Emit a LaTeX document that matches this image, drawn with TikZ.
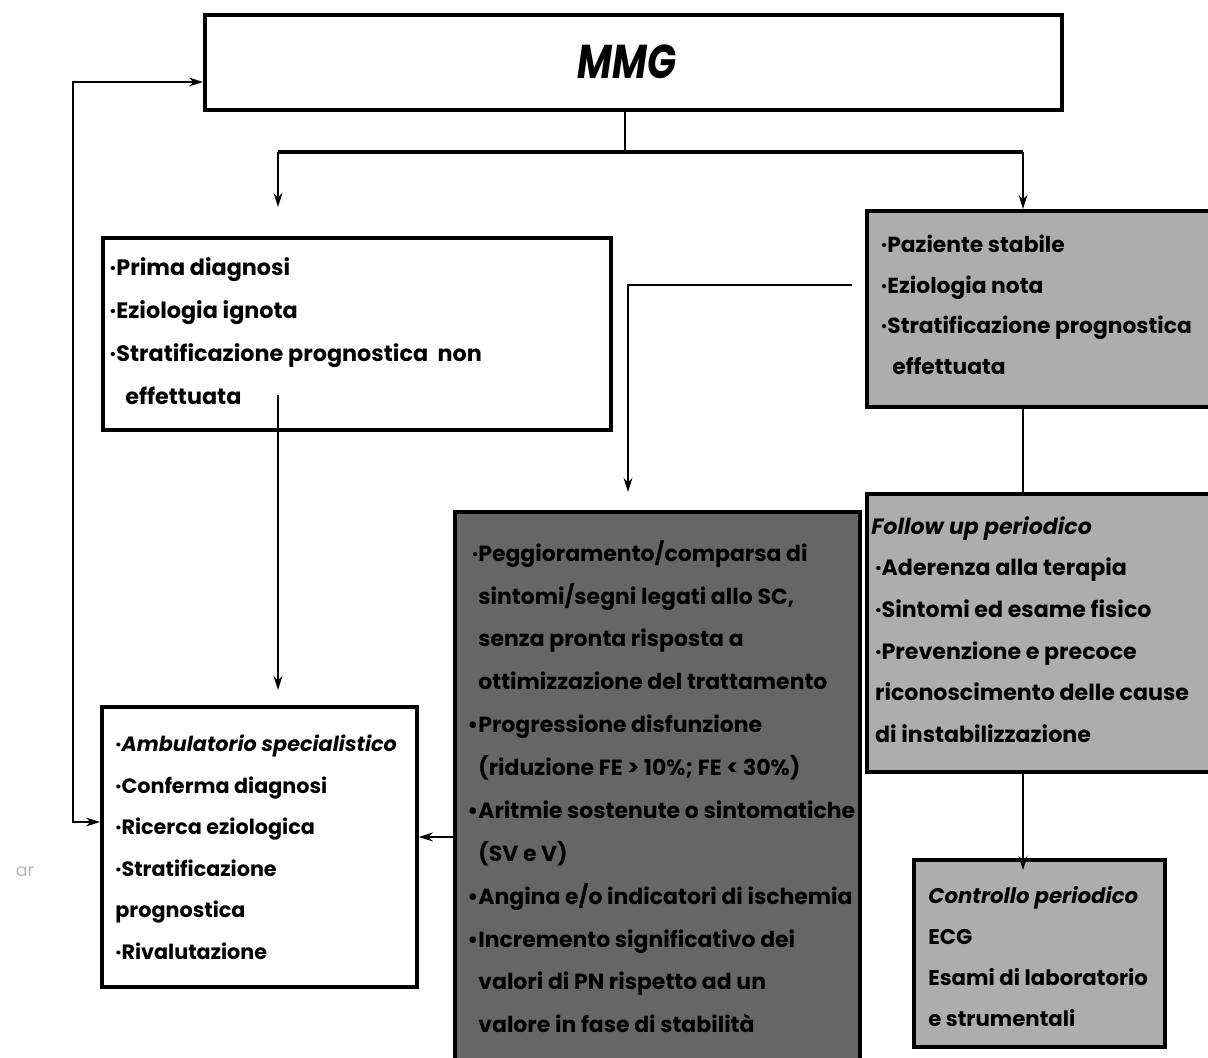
\documentclass[tikz,border=0pt]{standalone}
\usepackage{fontspec}
\setmainfont{Poppins}
\newfontfamily\titlefont{Poppins}[FakeStretch=0.8]
\usetikzlibrary{arrows.meta}
\definecolor{lightbox}{gray}{0.68}
\definecolor{darkbox}{gray}{0.40}
\definecolor{faint}{gray}{0.72}
\tikzset{
  box/.style={draw=black, line width=2.2pt, inner sep=0pt, anchor=north west},
  txt/.style 2 args={anchor=north west, align=left, inner sep=0pt,
              font=\fontsize{#1}{#2}\selectfont\bfseries},
  conn/.style={line width=1.2pt},
  trunk/.style={line width=2.2pt},
  arr/.style={conn, -{Stealth[length=8pt,width=5pt]}},
  loop/.style={line width=1pt, {Stealth[length=8pt,width=5pt]}-{Stealth[length=8pt,width=5pt]}}
}
\newcommand\hb{\llap{·}}
\newcommand\bb{\llap{•}}
\begin{document}
\begin{tikzpicture}[x=0.02cm, y=-0.02cm]
  \useasboundingbox (0,0) rectangle (1208,1058);
  \clip (0,0) rectangle (1208,1058);

  % boxes
  \node[box, minimum width=17.14cm, minimum height=1.9cm] (mmg) at (203,13) {};
  \node[box, minimum width=10.16cm, minimum height=3.84cm] (prima) at (101,236) {};
  \node[box, fill=lightbox, minimum width=7.1cm, minimum height=3.92cm] (paz) at (865,209) {};
  \node[box, fill=darkbox, minimum width=8.1cm, minimum height=11.3cm] (dark) at (453,510) {};
  \node[box, fill=lightbox, minimum width=7.1cm, minimum height=5.56cm] (follow) at (865,492) {};
  \node[box, fill=lightbox, minimum width=5.02cm, minimum height=3.74cm] (ctrl) at (912,858) {};
  \node[box, minimum width=6.3cm, minimum height=5.6cm] (amb) at (100,705) {};

  % texts
  \node[inner sep=0pt, font=\titlefont\fontsize{27pt}{30pt}\selectfont\bfseries\itshape] (mmgt) at (627,62) {MMG};

  \node[txt={12.7pt}{24.6pt}] (primat) at (116,257) {\hb Prima diagnosi\\
    \hb Eziologia ignota\\
    \hb Stratificazione prognostica\ \ non\\
    \hspace*{0.18cm}effettuata};

  \node[txt={12.4pt}{23.1pt}] (pazt) at (887,235) {\hb Paziente stabile\\
    \hb Eziologia nota\\
    \hb Stratificazione prognostica\\
    \hspace*{0.1cm}effettuata};

  \node[txt={12.5pt}{24.4pt}] (darkt) at (478,540) {\hb Peggioramento/comparsa di\\
    sintomi/segni legati allo SC,\\
    senza pronta risposta a\\
    ottimizzazione del trattamento\\
    \bb Progressione disfunzione\\
    (riduzione FE > 10\%; FE < 30\%)\\
    \bb Aritmie sostenute o sintomatiche\\
    (SV e V)\\
    \bb Angina e/o indicatori di ischemia\\
    \bb Incremento significativo dei\\
    valori di PN rispetto ad un\\
    valore in fase di stabilità};

  \node[txt={12.6pt}{23.7pt}] (followt) at (871,516) {\textit{Follow up periodico}\\
    \,·Aderenza alla terapia\\
    \,·Sintomi ed esame fisico\\
    \,·Prevenzione e precoce\\
    \,riconoscimento delle cause\\
    \,di instabilizzazione};

  \node[txt={12.1pt}{23.3pt}] (ctrlt) at (928,886) {\textit{Controllo periodico}\\
    ECG\\
    Esami di laboratorio\\
    e strumentali};

  \node[txt={11.8pt}{23.6pt}] (ambt) at (115,735) {·\textit{Ambulatorio specialistico}\\
    ·Conferma diagnosi\\
    ·Ricerca eziologica\\
    ·Stratificazione\\
    prognostica\\
    ·Rivalutazione};

  \node[inner sep=0pt, text=faint, font=\fontsize{10pt}{12pt}\selectfont] (stray) at (25,872) {ar};

  % connector points
  \coordinate (split) at (625,152);
  \coordinate (brL) at (278,152);
  \coordinate (brR) at (1023,152);
  \coordinate (tipL) at (278,207);
  \coordinate (pz) at (852,285);
  \coordinate (dtip) at (628,492);
  \coordinate (pstart) at (278,395);
  \coordinate (ptip) at (278,690);
  \coordinate (ambin) at (100,822);
  \coordinate (loopc) at (73,82);
  \coordinate (darkout) at (453,837);
  \coordinate (ctip) at (1023,870);

  % connectors
  \draw[conn] (split |- mmg.south) -- (split);
  \draw[trunk] (brL) -- (brR);
  \draw[arr] (brL) -- (tipL);
  \draw[arr] (brR) -- (brR |- paz.north);
  \draw[arr] (pz) -| (dtip);
  \draw[arr] (pstart) -- (ptip);
  \draw[loop] (ambin) -| (loopc) -- (loopc -| mmg.west);
  \draw[arr, line width=1.6pt] (darkout) -- (amb.east |- darkout);
  \draw[conn] (brR |- paz.south) -- (brR |- follow.north);
  \draw[arr] (brR |- follow.south) -- (ctip);
\end{tikzpicture}
\end{document}
